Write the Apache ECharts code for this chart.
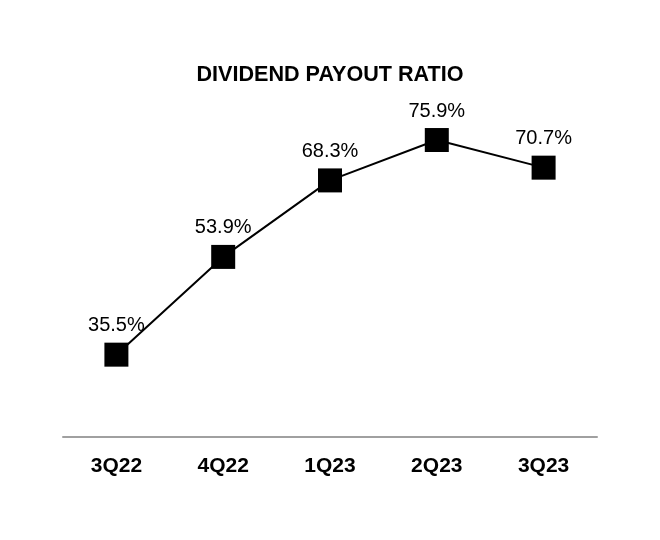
<!DOCTYPE html>
<html>
<head>
<meta charset="utf-8">
<script src="https://cdn.jsdelivr.net/npm/echarts@6/dist/echarts.min.js"></script>
<style>html,body{margin:0;padding:0;background:#fff;}#c{width:660px;height:540px;}</style>
</head>
<body>
<div id="c"></div>
<script>
const categories = ['3Q22', '4Q22', '1Q23', '2Q23', '3Q23'];
const payoutRatio = [35.5, 53.9, 68.3, 75.9, 70.7];
const titleText = 'DIVIDEND PAYOUT RATIO';

const chart = echarts.init(document.getElementById('c'), null, { renderer: 'canvas' });
chart.setOption({
  backgroundColor: '#ffffff',
  animation: false,
  title: {
    text: titleText,
    left: 'center',
    top: 59,
    textStyle: { fontFamily: 'Liberation Sans, Arial, sans-serif', fontSize: 21.6, fontWeight: 'bold', color: '#000' }
  },
  grid: { left: 63, right: 63, top: 12, bottom: 103, containLabel: false },
  xAxis: {
    type: 'category',
    data: categories,
    boundaryGap: true,
    axisLine: { show: true, lineStyle: { color: '#a0a0a0', width: 2 } },
    axisTick: { show: false },
    axisLabel: { margin: 19, fontFamily: 'Liberation Sans, Arial, sans-serif', fontSize: 21, fontWeight: 'bold', color: '#000' }
  },
  yAxis: {
    type: 'value',
    min: 20,
    max: 100,
    show: false,
    splitLine: { show: false }
  },
  series: [{
    type: 'line',
    data: payoutRatio,
    symbol: 'rect',
    symbolSize: 24,
    itemStyle: { color: '#000' },
    lineStyle: { color: '#000', width: 2 },
    label: {
      show: true,
      position: 'top',
      distance: 7,
      formatter: p => p.value.toFixed(1) + '%',
      fontFamily: 'Liberation Sans, Arial, sans-serif',
      fontSize: 20,
      color: '#000'
    }
  }]
});
</script>
</body>
</html>
